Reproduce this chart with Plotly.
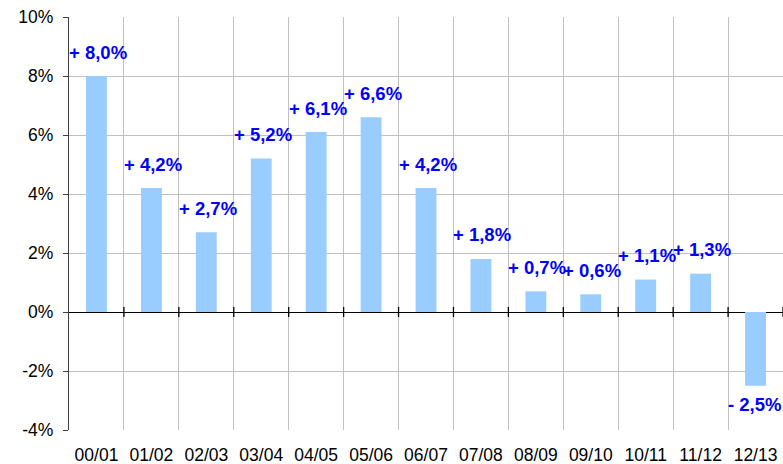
import plotly.graph_objects as go

# Données
saisons = ["00/01", "01/02", "02/03", "03/04", "04/05", "05/06", "06/07",
           "07/08", "08/09", "09/10", "10/11", "11/12", "12/13"]
variations = [8.0, 4.2, 2.7, 5.2, 6.1, 6.6, 4.2, 1.8, 0.7, 0.6, 1.1, 1.3, -2.5]
graduations_y = [-4, -2, 0, 2, 4, 6, 8, 10]


def fmt(v):
    signe = "+" if v >= 0 else "-"
    return f"{signe} {abs(v):.1f}%".replace(".", ",")


fig = go.Figure()
fig.add_trace(go.Bar(
    x=saisons,
    y=variations,
    marker=dict(color="#99CCFF", line=dict(width=0)),
    hoverinfo="skip",
))

# étiquettes de valeurs, calées à gauche de chaque catégorie
for i, v in enumerate(variations):
    fig.add_annotation(
        x=i - 0.5, y=v, xref="x", yref="y",
        text=f"<b>{fmt(v)}</b>",
        showarrow=False,
        xanchor="left", yanchor="middle",
        xshift=-2,
        yshift=24 if v >= 0 else -19,
        font=dict(family="Arial", size=18.5, color="#0000FF"),
    )

# petites graduations sur la ligne du zéro
for i in range(len(saisons)):
    fig.add_shape(
        type="line", xref="x", yref="y",
        x0=i + 0.5, x1=i + 0.5,
        ysizemode="pixel", yanchor=0, y0=-5, y1=5,
        line=dict(color="#000000", width=1.3),
    )

fig.update_layout(
    width=783, height=464,
    margin=dict(l=69, r=0, t=17, b=34),
    paper_bgcolor="white",
    plot_bgcolor="white",
    showlegend=False,
    bargap=0.62,
    font=dict(family="Arial", size=17.5, color="#000000"),
)

fig.update_xaxes(
    type="category",
    tickson="boundaries",
    showgrid=True, gridcolor="#C0C0C0", gridwidth=1,
    ticks="", showline=False,
    ticklabelstandoff=12,
    range=[-0.5, len(saisons) - 0.5],
)

fig.update_yaxes(
    range=[-4, 10],
    tickvals=graduations_y,
    ticktext=[f"{t}%" for t in graduations_y],
    showgrid=True, gridcolor="#C0C0C0", gridwidth=1,
    zeroline=True, zerolinecolor="#000000", zerolinewidth=1.3,
    showline=True, linecolor="#404040", linewidth=1.3,
    ticks="outside", ticklen=5, tickcolor="#404040",
    ticklabelstandoff=6,
)

fig.write_html("out.html", config={"displayModeBar": False},
               post_script="document.body.style.margin='0';")
